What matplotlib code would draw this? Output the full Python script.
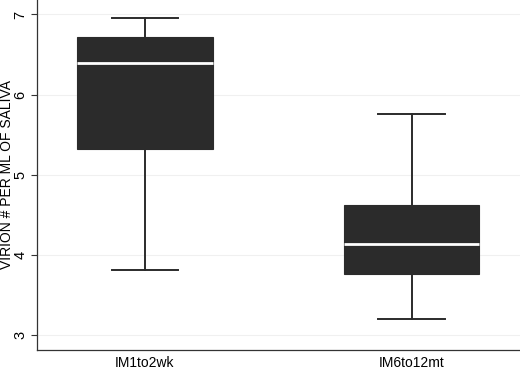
import matplotlib
matplotlib.use("Agg")
import matplotlib.pyplot as plt

categories = ["IM1to2wk", "IM6to12mt"]
whisker_low = [3.81, 3.20]
q1 = [5.32, 3.76]
median = [6.39, 4.14]
q3 = [6.72, 4.62]
whisker_high = [6.96, 5.76]
y_ticks = [3, 4, 5, 6, 7]

plt.rcParams['font.family'] = ['Liberation Sans', 'DejaVu Sans']

fig = plt.figure(figsize=(5.2, 3.68), dpi=100)
ax = fig.add_axes([0.0712, 0.049, 0.9288, 0.951])

stats = []
for i, c in enumerate(categories):
    stats.append(dict(label=c, med=median[i], q1=q1[i], q3=q3[i],
                      whislo=whisker_low[i], whishi=whisker_high[i], fliers=[]))

ax.bxp(stats, positions=[1, 2], widths=0.507, patch_artist=True,
       showfliers=False,
       boxprops=dict(facecolor='#2b2b2b', edgecolor='#2b2b2b', linewidth=0.8),
       medianprops=dict(color='white', linewidth=2.0),
       whiskerprops=dict(color='#2b2b2b', linewidth=1.4),
       capprops=dict(color='#2b2b2b', linewidth=1.4),
       capwidths=0.25)

ax.set_xlim(0.595, 2.407)
ax.set_ylim(2.817, 7.18)
ax.set_yticks(y_ticks)
ax.set_yticklabels([str(t) for t in y_ticks], rotation=90, va='center', fontsize=10.5)
ax.tick_params(axis='x', length=0, labelsize=10, pad=4)
ax.tick_params(axis='y', length=4, width=0.8, color='#333333', pad=3)
ax.grid(axis='y', color='#f0f0f0', linewidth=0.8)
ax.set_axisbelow(True)
for s in ['top', 'right']:
    ax.spines[s].set_visible(False)
for s in ['left', 'bottom']:
    ax.spines[s].set_color('#333333')
    ax.spines[s].set_linewidth(0.9)
ax.set_ylabel("VIRION # PER ML OF SALIVA", fontsize=10)
ax.yaxis.set_label_coords(-0.048, 0.5)

fig.savefig("out.png", dpi=100)
